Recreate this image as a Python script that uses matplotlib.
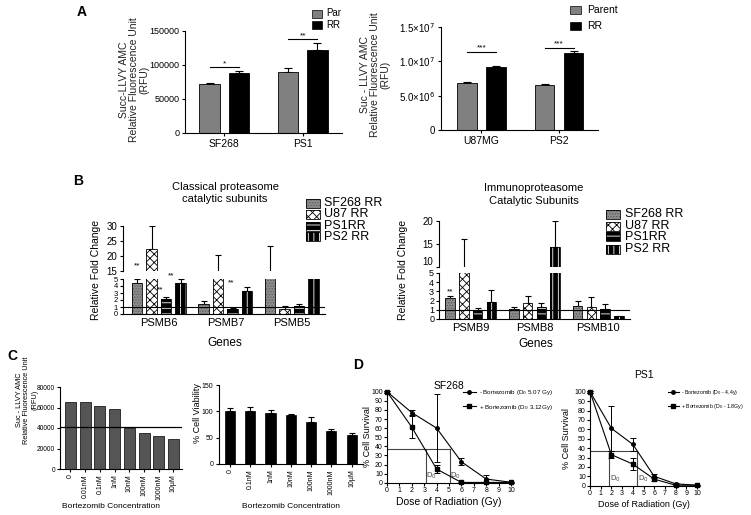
import numpy as np
import matplotlib
matplotlib.use("Agg")
import matplotlib.pyplot as plt
from matplotlib.patches import Rectangle
from matplotlib.lines import Line2D

plt.rcParams['font.family'] = ['Liberation Sans', 'DejaVu Sans']
plt.rcParams['hatch.linewidth'] = 0.6
plt.rcParams['axes.linewidth'] = 0.8

# ---- data: panel A (proteasome activity) ----
a1_groups = ['SF268', 'PS1']
a1_par = [72000, 90000]
a1_par_err = [2000, 5000]
a1_rr = [88000, 122000]
a1_rr_err = [3000, 10000]
a1_sig = ['*', '**']
a1_sig_y = [97000, 138000]

a2_groups = ['U87MG', 'PS2']
a2_par = [6.8e6, 6.5e6]
a2_par_err = [0.2e6, 0.15e6]
a2_rr = [9.2e6, 1.12e7]
a2_rr_err = [0.15e6, 0.3e6]
a2_sig = ['***', '***']
a2_sig_y = [1.14e7, 1.2e7]

# ---- data: panel B (fold change) ----
b_cells = ['SF268 RR', 'U87 RR', 'PS1RR', 'PS2 RR']
b_cls_genes = ['PSMB6', 'PSMB7', 'PSMB5']
b_cls_sf268 = [4.5, 1.4, 12.0]
b_cls_sf268_err = [0.5, 0.4, 11.5]
b_cls_u87 = [22.5, 12.0, 0.7]
b_cls_u87_err = [7.5, 8.2, 0.4]
b_cls_ps1 = [2.1, 0.7, 1.1]
b_cls_ps1_err = [0.3, 0.2, 0.35]
b_cls_ps2 = [4.5, 3.3, 9.0]
b_cls_ps2_err = [0.5, 0.5, 0.0]

b_imm_genes = ['PSMB9', 'PSMB8', 'PSMB10']
b_imm_sf268 = [2.3, 1.1, 1.4]
b_imm_sf268_err = [0.25, 0.2, 0.6]
b_imm_u87 = [8.0, 1.7, 1.35]
b_imm_u87_err = [8.0, 0.85, 1.0]
b_imm_ps1 = [0.9, 1.35, 1.1]
b_imm_ps1_err = [0.3, 0.4, 0.55]
b_imm_ps2 = [1.8, 14.3, 0.3]
b_imm_ps2_err = [1.4, 5.7, 0.05]

# ---- data: panel C (bortezomib) ----
c_act_labels = ['0', '0.01nM', '0.1nM', '1nM', '10nM', '100nM', '1000nM', '10µM']
c_activity = [65000, 65000, 61000, 58500, 40000, 35500, 32500, 29000]
c_act_cutoff = 40500
c_via_labels = ['0', '0.1nM', '1nM', '10nM', '100nM', '1000nM', '10µM']
c_viability = [100, 100, 97, 93, 79, 63, 56]
c_viability_err = [6, 8, 5, 2, 10, 3, 2]

# ---- data: panel D (survival) ----
d_dose = [0, 2, 4, 6, 8, 10]
d_sf_minus = [100, 77, 60, 23, 4, 0.5]
d_sf_minus_err = [1, 3, 37, 4, 4, 0.5]
d_sf_plus = [100, 61, 15, 0.3, 0.3, 0.3]
d_sf_plus_err = [1, 12, 4, 0.5, 0.5, 0.5]
d_sf_d0 = [3.12, 5.07]
d_ps_minus = [100, 61, 44, 10, 2, 0.5]
d_ps_minus_err = [1, 24, 7, 2, 1, 0.3]
d_ps_plus = [100, 33, 23, 7, 0.5, 0.5]
d_ps_plus_err = [1, 4, 6, 2, 0.5, 0.3]
d_ps_d0 = [1.8, 4.4]
d0_level = 37

W, H = 751, 515
fig = plt.figure(figsize=(W / 100, H / 100), dpi=100)


def add_ax(x0, y0, x1, y1):
    ax = fig.add_axes([x0 / W, 1 - y1 / H, (x1 - x0) / W, (y1 - y0) / H])
    ax.spines['top'].set_visible(False)
    ax.spines['right'].set_visible(False)
    ax.tick_params(direction='out', length=2.5, width=0.8, pad=1.5)
    return ax


def ftext(x, y, s, **kw):
    fig.text(x / W, 1 - y / H, s, **kw)


def up_err(ax, x, y, e, cap=3):
    ax.errorbar(x, y, yerr=[np.zeros(len(e)), e], fmt='none', ecolor='black',
                elinewidth=0.8, capsize=cap, capthick=0.8, zorder=1)


# ================= Panel A =================
ftext(82, 12, 'A', fontsize=10, fontweight='bold', ha='center', va='center')

ax = add_ax(185, 31, 342, 133)
x = np.arange(len(a1_groups))
off, wd = 0.186, 0.26
up_err(ax, x - off, a1_par, a1_par_err)
up_err(ax, x + off, a1_rr, a1_rr_err)
ax.bar(x - off, a1_par, wd, color='#808080', edgecolor='black', lw=0.6, zorder=2)
ax.bar(x + off, a1_rr, wd, color='black', edgecolor='black', lw=0.6, zorder=2)
for i in range(len(x)):
    ax.plot([x[i] - off, x[i] + off], [a1_sig_y[i]] * 2, color='black', lw=0.8)
    ax.text(x[i], a1_sig_y[i], a1_sig[i], ha='center', va='bottom', fontsize=6)
ax.set_xlim(-0.5, 1.5)
ax.set_ylim(0, 150000)
ax.set_yticks([0, 50000, 100000, 150000])
ax.set_xticks(x)
ax.set_xticklabels(a1_groups, fontsize=7.5)
ax.tick_params(axis='y', labelsize=6.5)
ftext(134, 80, 'Succ-LLVY AMC\nRelative Fluorescence Unit\n(RFU)', rotation=90,
      ha='center', va='center', fontsize=7.5, linespacing=1.0, color='#222')
fig.patches.append(Rectangle((312 / W, 1 - 18 / H), 10 / W, 8 / H, transform=fig.transFigure,
                             fc='#808080', ec='black', lw=0.5))
fig.patches.append(Rectangle((312 / W, 1 - 29 / H), 10 / W, 8 / H, transform=fig.transFigure,
                             fc='black', ec='black', lw=0.5))
ftext(326, 13.5, 'Par', fontsize=7, va='center')
ftext(326, 25, 'RR', fontsize=7, va='center')

ax = add_ax(441, 27, 598, 130)
x = np.arange(len(a2_groups))
off, wd = 0.187, 0.25
up_err(ax, x - off, a2_par, a2_par_err)
up_err(ax, x + off, a2_rr, a2_rr_err)
ax.bar(x - off, a2_par, wd, color='#808080', edgecolor='black', lw=0.6, zorder=2)
ax.bar(x + off, a2_rr, wd, color='black', edgecolor='black', lw=0.6, zorder=2)
for i in range(len(x)):
    ax.plot([x[i] - off, x[i] + off], [a2_sig_y[i]] * 2, color='black', lw=0.8)
    ax.text(x[i], a2_sig_y[i], a2_sig[i], ha='center', va='bottom', fontsize=6)
ax.set_xlim(-0.52, 1.5)
ax.set_ylim(0, 1.5e7)
ax.set_yticks([0, 5e6, 1e7, 1.5e7])
ax.set_yticklabels(['0', '5.0×10$^{6}$', '1.0×10$^{7}$', '1.5×10$^{7}$'], fontsize=7)
ax.set_xticks(x)
ax.set_xticklabels(a2_groups, fontsize=7.5)
ftext(375, 75, 'Suc - LLVY AMC\nRelative Fluorescence Unit\n(RFU)', rotation=90,
      ha='center', va='center', fontsize=7.5, linespacing=1.05, color='#222')
fig.patches.append(Rectangle((570 / W, 1 - 14 / H), 11 / W, 8 / H, transform=fig.transFigure,
                             fc='#808080', ec='black', lw=0.5))
fig.patches.append(Rectangle((570 / W, 1 - 30 / H), 11 / W, 8 / H, transform=fig.transFigure,
                             fc='black', ec='black', lw=0.5))
ftext(587, 10, 'Parent', fontsize=7.5, va='center')
ftext(587, 26, 'RR', fontsize=7.5, va='center')

# ================= Panel B =================
styles = [dict(fc='#8c8c8c', hc='#5a5a5a', hatch='......'),
          dict(fc='white', hc='black', hatch='xxxx'),
          dict(fc='black', hc='white', hatch='---'),
          dict(fc='black', hc='white', hatch='|||')]


def pattern_bars(ax, xs, vals, wd, st):
    ax.bar(xs, vals, wd, color=st['fc'], edgecolor=st['hc'], hatch=st['hatch'], lw=0, zorder=2)
    ax.bar(xs, vals, wd, fill=False, edgecolor='black', lw=0.6, zorder=3)


def broken_panel(top_box, bot_box, genes, series, errs, top_lim, top_ticks, xlim, step, wd,
                 low_fs):
    axt = add_ax(*top_box)
    axb = add_ax(*bot_box)
    axt.spines['bottom'].set_visible(False)
    axt.tick_params(axis='x', bottom=False, labelbottom=False)
    x = np.arange(len(genes))
    offs = (np.arange(4) - 1.5) * step
    for a in (axt, axb):
        for k in range(4):
            up_err(a, x + offs[k], series[k], errs[k], cap=2.5)
            pattern_bars(a, x + offs[k], series[k], wd, styles[k])
        a.set_xlim(*xlim)
    axt.tick_params(axis='y', labelsize=7)
    axb.tick_params(axis='y', labelsize=low_fs, pad=1)
    axt.set_ylim(*top_lim)
    axt.set_yticks(top_ticks)
    axb.set_ylim(0, 5)
    axb.set_yticks(range(6))
    axb.axhline(1, color='black', lw=0.8, zorder=5)
    axb.set_xticks(x)
    axb.set_xticklabels(genes, fontsize=8)
    axb.tick_params(axis='x', length=0, pad=3)
    return axt, axb


cls_series = [b_cls_sf268, b_cls_u87, b_cls_ps1, b_cls_ps2]
cls_errs = [b_cls_sf268_err, b_cls_u87_err, b_cls_ps1_err, b_cls_ps2_err]
axt, axb = broken_panel((123, 226, 325, 271), (123, 279, 325, 314), b_cls_genes,
                        cls_series, cls_errs, (15, 30), [15, 20, 25, 30],
                        (-0.54, 2.5), 0.218, 0.158, 5.5)
axt.text(-0.33, 15.5, '**', fontsize=6, ha='center', va='bottom')
axb.text(0.02, 2.9, '**', fontsize=6, ha='center', va='bottom')
axb.text(0.19, 4.9, '**', fontsize=6, ha='center', va='bottom')
axb.text(1.08, 4.0, '**', fontsize=6, ha='center', va='bottom')
ftext(225, 187, 'Classical proteasome', fontsize=8, ha='center', va='center')
ftext(225, 199, 'catalytic subunits', fontsize=8, ha='center', va='center')
ftext(225, 343, 'Genes', fontsize=8.5, ha='center', va='center')
ftext(96, 270, 'Relative Fold Change', fontsize=7.5, rotation=90, ha='center', va='center')
ftext(78, 181, 'B', fontsize=10, fontweight='bold', ha='center', va='center')

imm_series = [b_imm_sf268, b_imm_u87, b_imm_ps1, b_imm_ps2]
imm_errs = [b_imm_sf268_err, b_imm_u87_err, b_imm_ps1_err, b_imm_ps2_err]
axt, axb = broken_panel((439, 221, 630, 267), (439, 273, 630, 319), b_imm_genes,
                        imm_series, imm_errs, (10, 20), [10, 15, 20],
                        (-0.5, 2.5), 0.216, 0.15, 6.5)
for lbl in axt.get_yticklabels()[:1]:
    lbl.set_va('bottom')
axb.text(-0.324, 2.6, '**', fontsize=6, ha='center', va='bottom')
ftext(534, 188, 'Immunoproteasome', fontsize=8, ha='center', va='center')
ftext(534, 201, 'Catalytic Subunits', fontsize=8, ha='center', va='center')
ftext(536, 344, 'Genes', fontsize=8.5, ha='center', va='center')
ftext(403, 270, 'Relative Fold Change', fontsize=7.5, rotation=90, ha='center', va='center')


def pattern_legend(x0, y_rows, tx, fs):
    for k in range(4):
        yy = y_rows[k]
        st = styles[k]
        fig.patches.append(Rectangle((x0 / W, 1 - (yy + 4.5) / H), 14 / W, 9 / H,
                                     transform=fig.transFigure, fc=st['fc'], ec=st['hc'],
                                     hatch=st['hatch'], lw=0))
        fig.patches.append(Rectangle((x0 / W, 1 - (yy + 4.5) / H), 14 / W, 9 / H,
                                     transform=fig.transFigure, fill=False, ec='black', lw=0.6))
        ftext(tx, yy, b_cells[k], fontsize=fs, va='center')


pattern_legend(306, [203, 214, 226, 237], 324, 9)
pattern_legend(606, [214, 226, 237, 249], 625, 9)

# ================= Panel C =================
ftext(12, 356, 'C', fontsize=10, fontweight='bold', ha='center', va='center')
ax = add_ax(60, 387, 182, 469)
x = np.arange(len(c_activity))
ax.bar(x, c_activity, 0.75, color='#555555', edgecolor='black', lw=0.5)
ax.axhline(c_act_cutoff, color='black', lw=0.9)
ax.set_xlim(-0.71, 7.58)
ax.set_ylim(0, 80000)
ax.set_yticks(range(0, 80001, 20000))
ax.set_xticks(x)
ax.set_xticklabels(c_act_labels, rotation=90, fontsize=5)
ax.tick_params(axis='y', labelsize=4.8, pad=1)
ftext(111, 507, 'Bortezomib Concentration', fontsize=6, ha='center', va='center')
ftext(27, 400, 'Suc - LLVY AMC\nRelative Fluorescence Unit\n(RFU)', rotation=90,
      ha='center', va='center', fontsize=5.3, linespacing=1.15)

ax = add_ax(219, 385, 363, 464)
x = np.arange(len(c_viability))
up_err(ax, x, c_viability, c_viability_err, cap=2.5)
ax.bar(x, c_viability, 0.5, color='black', edgecolor='black', lw=0.5, zorder=2)
ax.set_xlim(-0.54, 6.56)
ax.set_ylim(0, 150)
ax.set_yticks([0, 50, 100, 150])
ax.set_xticks(x)
ax.set_xticklabels(c_via_labels, rotation=90, fontsize=5)
ax.tick_params(axis='y', labelsize=5)
ftext(291, 507, 'Bortezomib Concentration', fontsize=6, ha='center', va='center')
ftext(197, 413, '% Cell Viability', rotation=90, ha='center', va='center', fontsize=6.5)

# ================= Panel D =================
ftext(358, 365, 'D', fontsize=10, fontweight='bold', ha='center', va='center')


def survival(box, minus, minus_err, plus, plus_err, d0, title, title_pad, leg_minus, leg_plus,
             leg_xy, fs_leg):
    ax = add_ax(*box)
    ax.errorbar(d_dose, minus, yerr=minus_err, color='black', lw=0.8, marker='o', ms=2.5,
                capsize=2, elinewidth=0.7, capthick=0.7, clip_on=False, zorder=3)
    ax.errorbar(d_dose, plus, yerr=plus_err, color='black', lw=0.8, marker='s', ms=2.5,
                capsize=2, elinewidth=0.7, capthick=0.7, clip_on=False, zorder=3)
    ax.plot([0, max(d0)], [d0_level, d0_level], color='#444', lw=0.8)
    for v in d0:
        ax.plot([v, v], [0, d0_level], color='#444', lw=0.8)
        ax.text(v + 0.05, 1.5, 'D$_0$', fontsize=5.5, color='#444', ha='left', va='bottom')
    ax.set_xlim(0, 10)
    ax.set_ylim(0, 100)
    ax.set_xticks(range(11))
    ax.set_yticks(range(0, 101, 10))
    ax.tick_params(labelsize=5, length=2, pad=1)
    ax.set_title(title, fontsize=7.5, pad=title_pad)
    h1 = Line2D([], [], color='black', lw=0.8, marker='o', ms=2.5)
    h2 = Line2D([], [], color='black', lw=0.8, marker='s', ms=2.5)
    ax.legend([h1, h2], [leg_minus, leg_plus], loc='upper left', frameon=False,
              bbox_to_anchor=(leg_xy[0] / W, 1 - leg_xy[1] / H), bbox_transform=fig.transFigure,
              fontsize=fs_leg, handlelength=2.0, handletextpad=0.5, labelspacing=0.9,
              borderaxespad=0, borderpad=0)
    return ax


ax = survival((387, 391.7, 511, 482.7), d_sf_minus, d_sf_minus_err, d_sf_plus, d_sf_plus_err,
              d_sf_d0, 'SF268', 2,
              '- Bortezomib (D$_0$ 5.07 Gy)', '+ Bortezomib (D$_0$ 3.12Gy)', (463, 388), 4.5)
ax.set_xlabel('Dose of Radiation (Gy)', fontsize=7.5, labelpad=2)
ftext(367, 437, '% Cell Survival', rotation=90, ha='center', va='center', fontsize=6.5)

ax = survival((590, 391.7, 697, 485.7), d_ps_minus, d_ps_minus_err, d_ps_plus, d_ps_plus_err,
              d_ps_d0, 'PS1', 10,
              '- Bortezomib (D$_0$ - 4.4y)', '+ Bortezomib (D$_0$ - 1.8Gy)', (668, 388), 3.8)
ax.set_xlabel('Dose of Radiation (Gy)', fontsize=6.5, labelpad=2)
ax.set_ylabel('% Cell Survival', fontsize=6.5, labelpad=2)

fig.savefig('out.png', dpi=100)
